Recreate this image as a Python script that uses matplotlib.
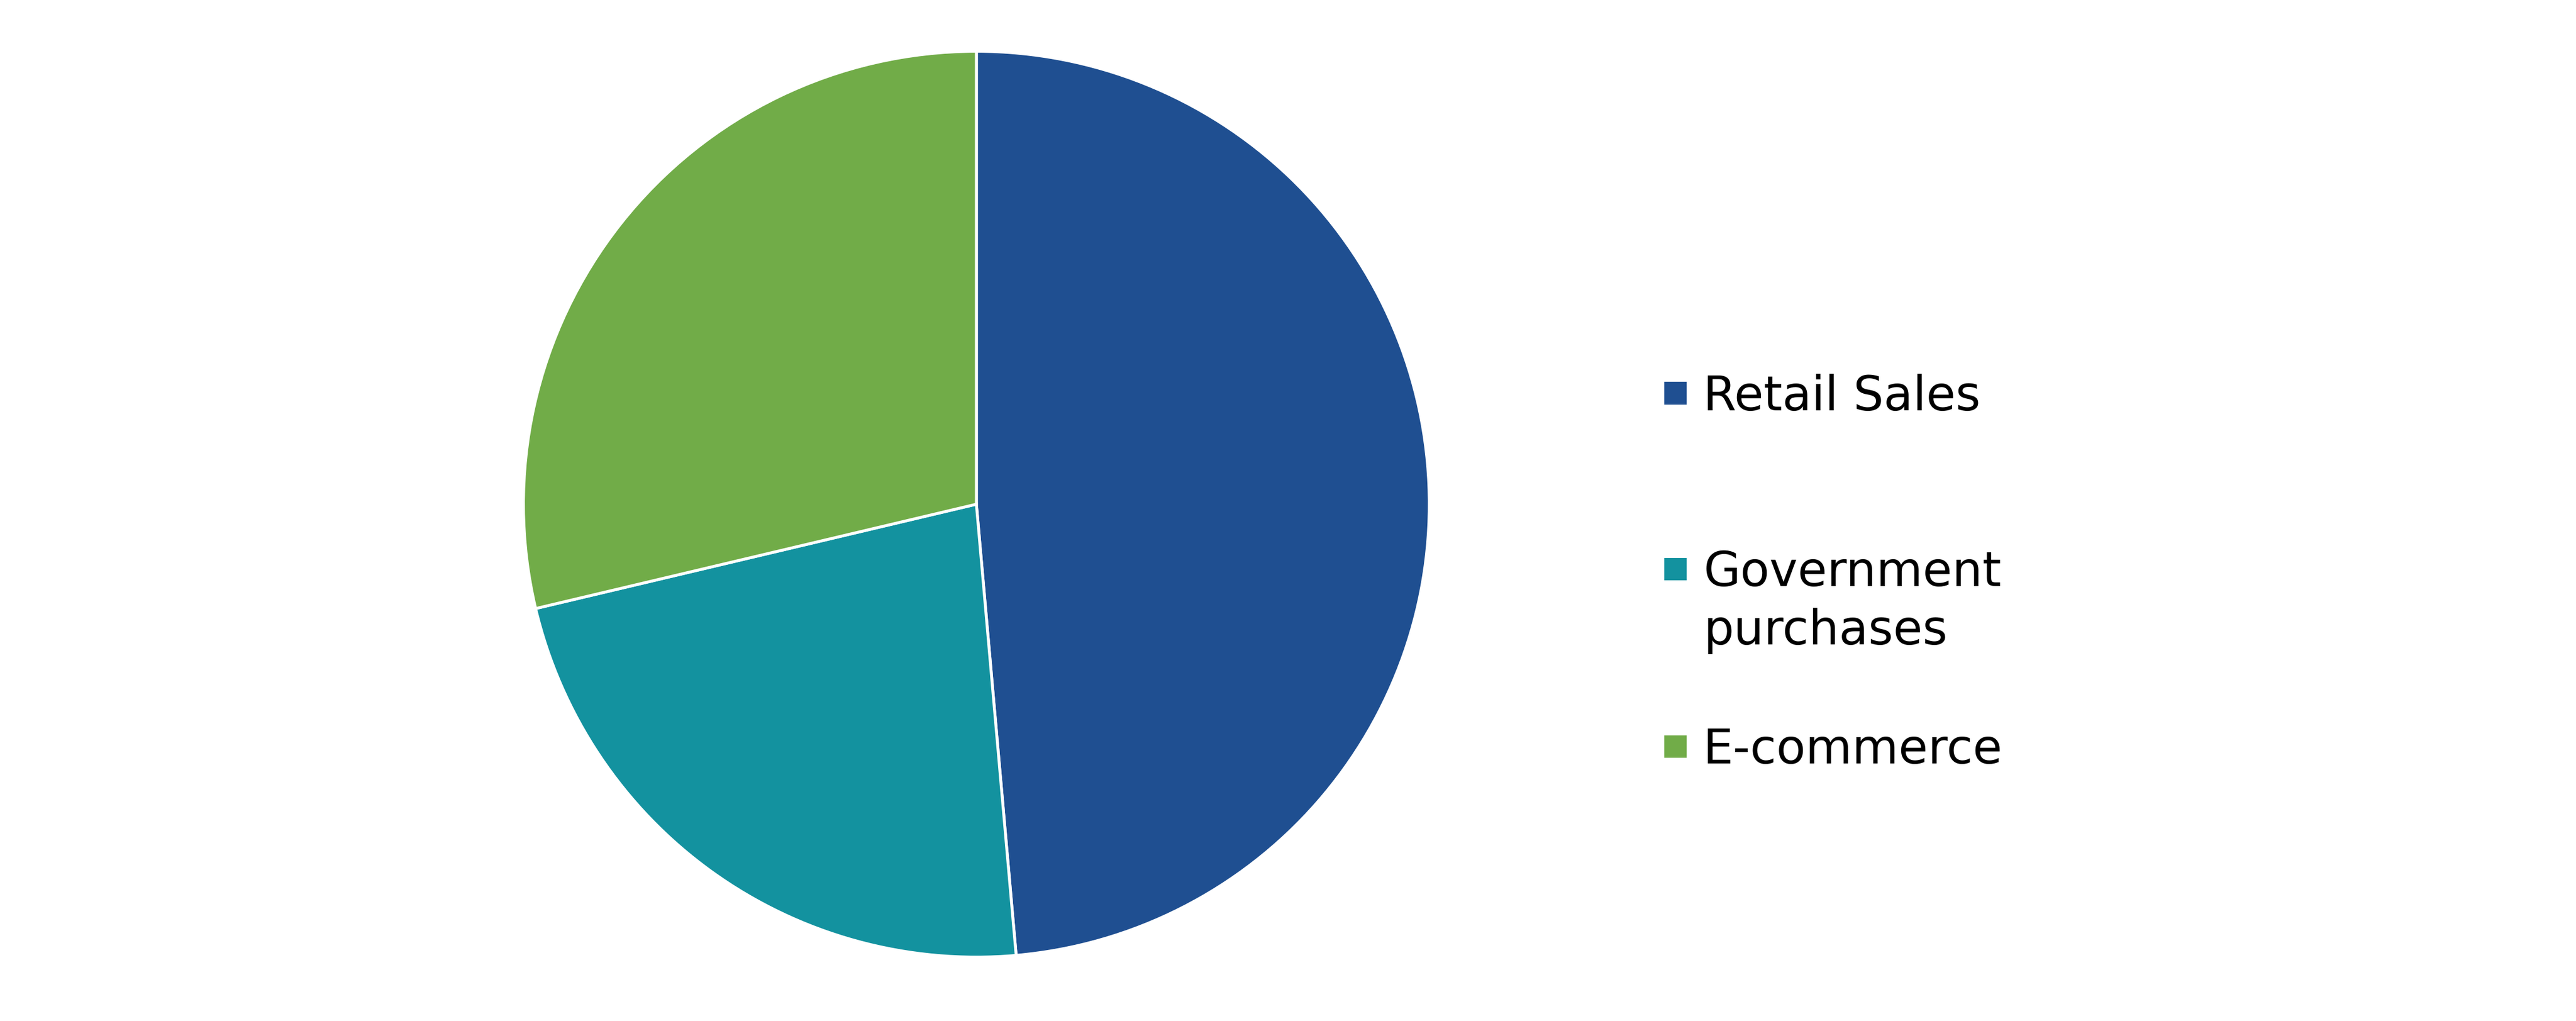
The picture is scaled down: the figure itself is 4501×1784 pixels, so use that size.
import matplotlib
matplotlib.use("Agg")
import matplotlib.pyplot as plt
from matplotlib.patches import Rectangle

# ── Data ────────────────────────────────────────────────────────────────────
labels = ["Retail Sales", "Government\npurchases", "E-commerce"]
shares = [48.6, 22.7, 28.7]
colors = ["#1F4F91", "#13929F", "#71AC48"]

W, H = 4501, 1784
fig = plt.figure(figsize=(W / 100, H / 100), dpi=100)

# pie placement (pixels)
cx, cy, r = 1706, 881, 789
ax = fig.add_axes([(cx - r) / W, (H - cy - r) / H, 2 * r / W, 2 * r / H])
ax.pie(shares, colors=colors, startangle=90, counterclock=False,
       wedgeprops=dict(edgecolor="white", linewidth=3.6))
ax.set_xlim(-0.997, 0.997)
ax.set_ylim(-0.997, 0.997)
ax.set_aspect("equal")
ax.axis("off")

# legend, drawn by hand to match spacing
sq_x, sq_size = 2908, 39
text_x = 2976
line_step = 102
first_baselines = [717, 1024, 1334]
for lab, col, base in zip(labels, colors, first_baselines):
    sq_center = base - 30
    fig.patches.append(Rectangle((sq_x / W, (H - sq_center - sq_size / 2) / H),
                                 sq_size / W, sq_size / H, facecolor=col,
                                 edgecolor="none", transform=fig.transFigure))
    for i, line in enumerate(lab.split("\n")):
        fig.text(text_x / W, (H - base - i * line_step) / H, line,
                 fontsize=60, family="DejaVu Sans",
                 ha="left", va="baseline", color="black")

fig.savefig("out.png", dpi=100)
